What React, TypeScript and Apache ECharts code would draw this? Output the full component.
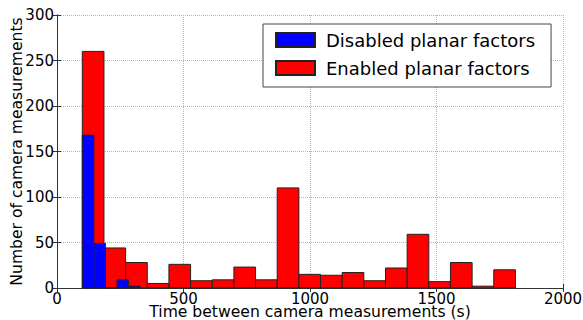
import React, { useEffect, useRef } from "react";
import * as echarts from "echarts";

const redEdges = [100, 185.6, 271.2, 356.8, 442.4, 528, 613.6, 699.2, 784.8, 870.4, 956, 1041.6, 1127.2, 1212.8, 1298.4, 1384, 1469.6, 1555.2, 1640.8, 1726.4, 1812];
const redCounts = [260, 44, 28, 5, 26, 8, 9, 23, 9, 110, 15, 14, 17, 8, 22, 59, 7, 28, 2, 20];
const blueEdges = [100, 145.7, 191.4, 237.1, 282.8, 328.5];
const blueCounts = [168, 49, 0, 9, 2];

const seriesNames = ["Disabled planar factors", "Enabled planar factors"];
const xTitle = "Time between camera measurements (s)";
const yTitle = "Number of camera measurements";

const FONT = "DejaVu Sans";
const EDGE = "#222";

function toBins(edges: number[], counts: number[]) {
  return counts.map((c, i) => [edges[i], edges[i + 1], c]);
}

function makeRender(fill: string) {
  return (params: any, api: any) => {
    const p0 = api.coord([api.value(0), api.value(2)]);
    const p1 = api.coord([api.value(1), 0]);
    return {
      type: "rect",
      shape: { x: p0[0], y: p0[1], width: p1[0] - p0[0], height: p1[1] - p0[1] },
      style: { fill, stroke: EDGE, lineWidth: 1 },
    };
  };
}

export default function App() {
  const ref = useRef<HTMLDivElement>(null);
  useEffect(() => {
    const chart = echarts.init(ref.current!, null, { renderer: "svg" });
    const axisLine = { show: true, lineStyle: { color: "#333", width: 1 } };
    const tick = { show: true, inside: true, length: 4, lineStyle: { color: "#333" } };
    const grid = { show: true, lineStyle: { color: "#b5b5b5", type: "dotted", width: 1 } };
    const fmt = (v: number) => String(v);
    chart.setOption({
      animation: false,
      backgroundColor: "#fff",
      textStyle: { fontFamily: FONT },
      grid: { left: 57, right: 20, top: 15, bottom: 32, containLabel: false, outerBoundsMode: "none" },
      legend: {
        data: seriesNames,
        orient: "vertical",
        left: 263,
        top: 24,
        icon: "rect",
        itemWidth: 39,
        itemHeight: 14,
        itemGap: 10,
        padding: [7, 16, 10, 12],
        backgroundColor: "#fff",
        borderColor: "#444",
        borderWidth: 1,
        borderRadius: 0,
        textStyle: { fontFamily: FONT, fontSize: 18, color: "#000", lineHeight: 18, padding: [0, 0, 0, 6] },
      },
      xAxis: [
        {
          type: "value",
          min: 0,
          max: 2000,
          interval: 500,
          name: xTitle,
          nameLocation: "middle",
          nameGap: 16,
          nameMoveOverlap: false,
          nameTextStyle: { fontFamily: FONT, fontSize: 15.6, color: "#000" },
          axisLine,
          axisTick: tick,
          axisLabel: { fontFamily: FONT, fontSize: 15, color: "#000", margin: 3, formatter: fmt },
          splitLine: grid,
        },
        {
          type: "value",
          position: "top",
          min: 0,
          max: 2000,
          interval: 500,
          axisLine,
          axisTick: tick,
          axisLabel: { show: false },
          splitLine: { show: false },
        },
      ],
      yAxis: [
        {
          type: "value",
          min: 0,
          max: 300,
          interval: 50,
          name: yTitle,
          nameLocation: "middle",
          nameGap: 32,
          nameMoveOverlap: false,
          nameTextStyle: { fontFamily: FONT, fontSize: 15.6, color: "#000" },
          axisLine,
          axisTick: tick,
          axisLabel: { fontFamily: FONT, fontSize: 15, color: "#000", margin: 3, formatter: fmt },
          splitLine: grid,
        },
        {
          type: "value",
          position: "right",
          min: 0,
          max: 300,
          interval: 50,
          axisLine,
          axisTick: tick,
          axisLabel: { show: false },
          splitLine: { show: false },
        },
      ],
      series: [
        {
          name: seriesNames[1],
          type: "custom",
          xAxisIndex: 0,
          yAxisIndex: 0,
          renderItem: makeRender("#ff0000"),
          itemStyle: { color: "#ff0000", borderColor: EDGE, borderWidth: 1 },
          encode: { x: [0, 1], y: 2 },
          data: toBins(redEdges, redCounts),
          z: 2,
        },
        {
          name: seriesNames[0],
          type: "custom",
          xAxisIndex: 0,
          yAxisIndex: 0,
          renderItem: makeRender("#0000ff"),
          itemStyle: { color: "#0000ff", borderColor: EDGE, borderWidth: 1 },
          encode: { x: [0, 1], y: 2 },
          data: toBins(blueEdges, blueCounts),
          z: 3,
        },
      ],
    });
    return () => chart.dispose();
  }, []);
  return (
    <div
      ref={ref}
      style={{ position: "absolute", left: 0, top: 0, width: 583, height: 320 }}
    />
  );
}
